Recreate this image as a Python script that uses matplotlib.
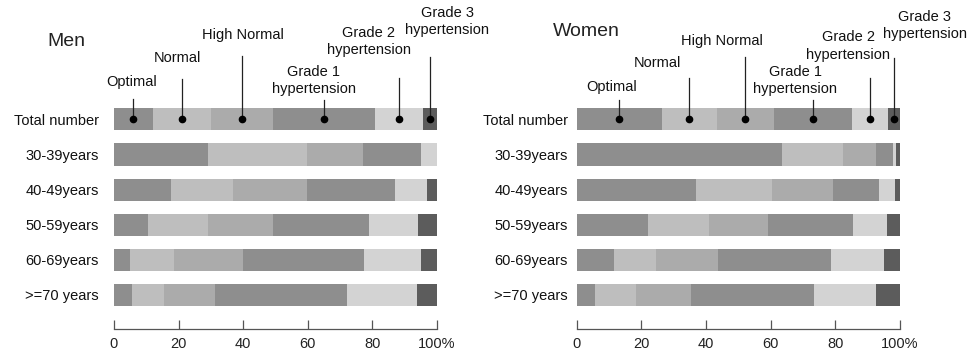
import numpy as np
import matplotlib
matplotlib.use("Agg")
import matplotlib.pyplot as plt

plt.rcParams['font.family'] = ['Liberation Sans', 'DejaVu Sans']

# Row labels (top to bottom) and blood pressure categories
groups = ['Total number', '30-39years', '40-49years', '50-59years', '60-69years', '>=70 years']
categories = ['Optimal', 'Normal', 'High Normal', 'Grade 1\nhypertension',
              'Grade 2\nhypertension', 'Grade 3\nhypertension']
colors = ['#8e8e8e', '#bebebe', '#ababab', '#8e8e8e', '#d3d3d3', '#5c5c5c']

# Share of each category in percent, one list per row
men_total = [12.0, 17.9, 19.2, 31.7, 15.0, 4.2]
men_30 = [29.2, 30.4, 17.5, 18.1, 4.8, 0.0]
men_40 = [17.8, 19.1, 22.9, 27.3, 9.9, 3.0]
men_50 = [10.6, 18.6, 19.9, 29.9, 15.1, 5.9]
men_60 = [4.9, 13.8, 21.1, 37.6, 17.5, 5.1]
men_70 = [5.5, 10.0, 15.7, 40.8, 21.8, 6.2]

women_total = [26.3, 17.2, 17.5, 24.3, 11.1, 3.6]
women_30 = [63.6, 18.9, 10.1, 5.2, 1.0, 1.2]
women_40 = [36.8, 23.8, 18.8, 14.1, 5.0, 1.5]
women_50 = [22.0, 19.0, 18.3, 26.1, 10.7, 3.9]
women_60 = [11.6, 12.9, 19.1, 35.1, 16.5, 4.8]
women_70 = [5.8, 12.6, 17.0, 38.0, 19.4, 7.2]

men = np.array([men_total, men_30, men_40, men_50, men_60, men_70])
women = np.array([women_total, women_30, women_40, women_50, women_60, women_70])

# Label positions above the "Total number" bar: (text x, text y, top of leader line)
men_labels = [(5.6, -1.07, -0.58), (19.5, -1.75, -1.15), (39.9, -2.41, -1.81),
              (61.8, -1.10, -0.56), (78.9, -2.21, -1.18), (103.1, -2.79, -1.78)]
women_labels = [(10.8, -0.93, -0.56), (25.0, -1.61, -1.18), (44.9, -2.22, -1.79),
                (67.6, -1.10, -0.56), (84.0, -2.09, -1.18), (107.8, -2.68, -1.75)]

fig = plt.figure(figsize=(9.7, 3.56), dpi=100)
ax_m = fig.add_axes([114/970, 27/356, 323/970, 329/356])
ax_w = fig.add_axes([576.7/970, 27/356, 323/970, 329/356])


def draw_panel(ax, data, labels, title, title_xy, ylabel_pad):
    y = np.arange(len(groups))
    left = np.zeros(len(groups))
    for j in range(len(categories)):
        ax.barh(y, data[:, j], left=left, height=0.63, color=colors[j], edgecolor='none')
        left = left + data[:, j]

    # Leader lines and dots at the middle of each segment of the first bar
    starts = np.concatenate([[0], np.cumsum(data[0])[:-1]])
    mids = starts + data[0] / 2
    for j in range(len(categories)):
        tx, ty, top = labels[j]
        ax.plot([mids[j], mids[j]], [0, top], color='#222222', lw=0.9, clip_on=False)
        ax.plot(mids[j], 0, 'o', color='black', markersize=4.5, clip_on=False)
        ax.text(tx, ty, categories[j], ha='center', va='center', fontsize=10.5,
                linespacing=1.3, color='#111111', clip_on=False)

    ax.set_xlim(0, 100)
    ax.set_ylim(5.97, -3.40)
    ax.set_yticks(y)
    ax.set_yticklabels(groups, fontsize=10.5, color='#111111')
    ax.tick_params(axis='y', length=0, pad=ylabel_pad)
    ax.set_xticks([0, 20, 40, 60, 80, 100])
    ax.set_xticklabels(['0', '20', '40', '60', '80', '100%'], fontsize=10.5, color='#222222')
    ax.tick_params(axis='x', direction='in', length=6.5, width=0.9, color='#555555', pad=6)
    for s in ['top', 'right', 'left']:
        ax.spines[s].set_visible(False)
    ax.spines['bottom'].set_color('#555555')
    ax.spines['bottom'].set_linewidth(0.9)
    ax.patch.set_alpha(0)

    fig.text(title_xy[0] / 970, 1 - title_xy[1] / 356, title, fontsize=14,
             ha='center', va='center', color='#222222')


draw_panel(ax_m, men, men_labels, 'Men', (66, 42), 11)
draw_panel(ax_w, women, women_labels, 'Women', (586.7, 32), 6.3)

fig.savefig('out.png', dpi=100)
